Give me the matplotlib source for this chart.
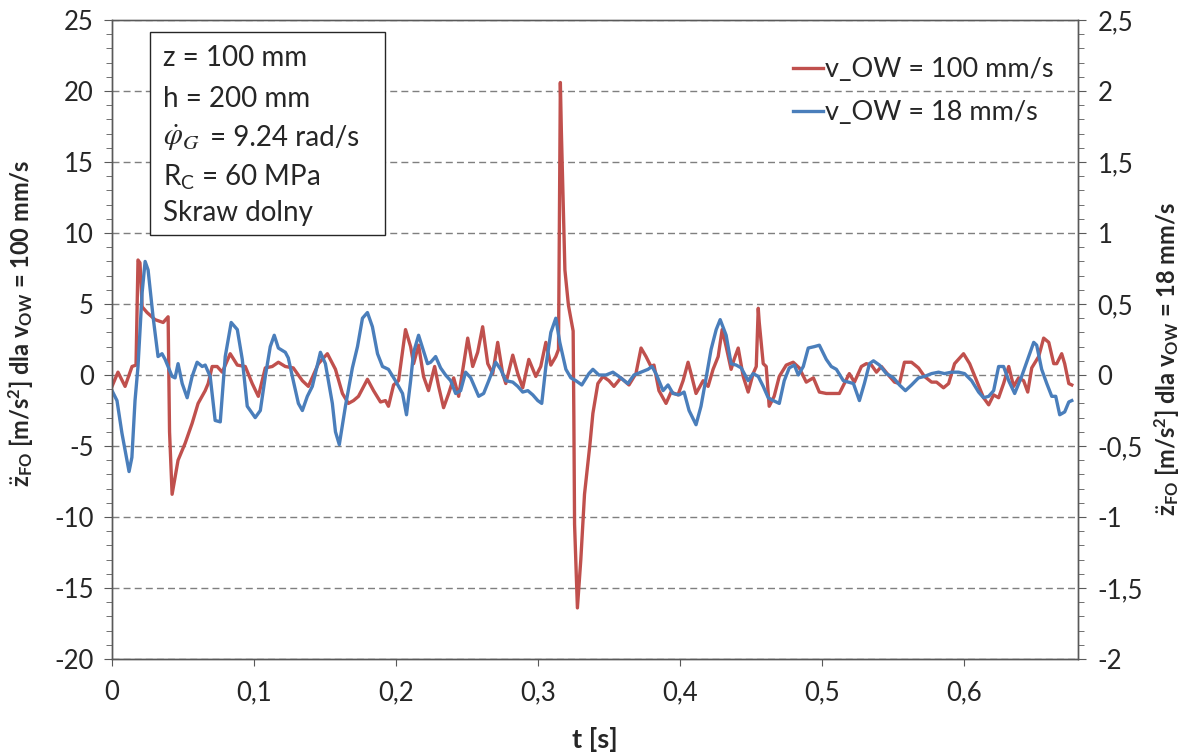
import matplotlib
matplotlib.use("Agg")
import matplotlib.pyplot as plt
from matplotlib.ticker import MultipleLocator, FuncFormatter
from matplotlib.lines import Line2D
from matplotlib.patches import Rectangle

plt.rcParams["font.family"] = ["Lato", "DejaVu Sans"]
plt.rcParams["mathtext.fontset"] = "custom"
plt.rcParams["mathtext.rm"] = "Lato"
plt.rcParams["mathtext.bf"] = "Lato:bold"
plt.rcParams["mathtext.it"] = "Lato:italic"

# v_OW = 100 mm/s, left axis [m/s^2]
t_red = [0.0, 0.0042, 0.0092, 0.0141, 0.0169, 0.0183, 0.0197, 0.0212, 0.0247, 0.0303,
         0.036, 0.0395, 0.0405, 0.0423, 0.0444, 0.0465, 0.0515, 0.0564, 0.0606, 0.0656,
         0.0677, 0.0705, 0.074, 0.0776, 0.0832, 0.0882, 0.0938, 0.0987, 0.103, 0.1079,
         0.1128, 0.1171, 0.122, 0.1276, 0.134, 0.1382, 0.1453, 0.1516, 0.1573, 0.1622,
         0.1664, 0.17, 0.1735, 0.1798, 0.1841, 0.189, 0.1925, 0.1946, 0.1982, 0.2017,
         0.2066, 0.2102, 0.2123, 0.2158, 0.2193, 0.2228, 0.2271, 0.2299, 0.2334, 0.237,
         0.2405, 0.244, 0.2504, 0.2539, 0.2574, 0.2609, 0.2645, 0.268, 0.2715, 0.275,
         0.2772, 0.2821, 0.2856, 0.2891, 0.2934, 0.2983, 0.3018, 0.3054, 0.3089, 0.3124,
         0.3143, 0.3149, 0.3156, 0.3163, 0.3188, 0.3213, 0.3246, 0.3251, 0.3256, 0.3276,
         0.33, 0.3326, 0.3364, 0.3385, 0.342, 0.3456, 0.3498, 0.3533, 0.3582, 0.3639,
         0.3688, 0.3724, 0.3759, 0.3794, 0.3815, 0.385, 0.39, 0.3935, 0.3984, 0.402,
         0.4055, 0.4076, 0.4111, 0.4161, 0.4196, 0.4231, 0.4267, 0.4295, 0.4323, 0.4358,
         0.4379, 0.4408, 0.4443, 0.4478, 0.4513, 0.4535, 0.4549, 0.4556, 0.4584, 0.4605,
         0.4626, 0.4661, 0.4697, 0.4746, 0.4795, 0.4838, 0.4887, 0.4937, 0.4979, 0.5028,
         0.5049, 0.512, 0.5155, 0.519, 0.5226, 0.5275, 0.531, 0.5346, 0.5381, 0.5416,
         0.5465, 0.5508, 0.5543, 0.5578, 0.5628, 0.5677, 0.5719, 0.5769, 0.5804, 0.5853,
         0.5889, 0.5931, 0.5994, 0.6037, 0.6086, 0.6135, 0.6171, 0.6206, 0.6241, 0.6276,
         0.6312, 0.6347, 0.6382, 0.6417, 0.6446, 0.6474, 0.6523, 0.6558, 0.6594, 0.6629,
         0.665, 0.6685, 0.6706, 0.6735, 0.6756]
a_red = [-0.8, 0.2, -0.8, 0.6, 0.7, 8.1, 7.9, 4.8, 4.4, 3.9,
         3.7, 4.1, -4.0, -8.4, -7.2, -6.0, -4.8, -3.4, -2.0, -1.1,
         -0.6, 0.6, 0.6, 0.2, 1.5, 0.7, 0.6, -0.6, -1.5, 0.5,
         0.6, 0.9, 0.6, 0.5, -0.4, -0.8, 0.8, 1.5, 0.4, -1.3,
         -2.0, -1.8, -1.5, -0.3, -1.1, -1.9, -1.8, -2.2, -0.7, -0.4,
         3.2, 2.0, 0.8, 2.1, -0.1, -1.1, 0.6, -0.8, -2.3, -1.3,
         -0.2, -1.5, 2.6, 0.6, 1.6, 3.4, 0.8, 0.1, 2.3, 0.1,
         -0.6, 1.4, 0.1, -0.9, 1.1, -0.1, 0.6, 2.3, 0.7, 1.3,
         1.8, 11.0, 20.6, 17.2, 7.4, 4.9, 3.1, -2.9, -10.5, -16.4,
         -13.0, -8.4, -4.9, -2.7, -0.6, -0.1, -0.4, -0.8, -0.2, -0.7,
         0.1, 1.9, 1.3, 0.6, 0.7, -1.1, -2.0, -1.2, -1.4, -0.4,
         0.9, 0.1, -1.3, -0.4, -0.8, 0.4, 1.3, 3.2, 2.0, 0.4,
         1.1, 1.9, -0.1, -1.2, 0.1, 0.6, 4.7, 3.7, 0.8, 0.6,
         -2.2, -1.5, -0.1, 0.7, 0.9, 0.5, -0.5, -0.2, -1.2, -1.3,
         -1.3, -1.3, -0.6, 0.1, -0.5, 0.6, 0.8, 0.7, 0.2, 0.6,
         0.0, -0.5, -0.6, 0.9, 0.9, 0.5, -0.1, -0.5, -0.5, -0.9,
         -0.6, 0.8, 1.5, 0.8, -0.4, -1.6, -2.1, -1.4, -1.6, -0.6,
         0.6, -0.8, -0.2, -0.4, -1.2, 0.5, 1.3, 2.6, 2.3, 0.8,
         0.8, 1.5, 0.8, -0.6, -0.7]

# v_OW = 18 mm/s, right axis [m/s^2]
t_blue = [0.0, 0.0035, 0.007, 0.012, 0.014, 0.0162, 0.0183, 0.0212, 0.0233, 0.0254,
          0.0289, 0.0324, 0.0352, 0.0374, 0.0423, 0.0444, 0.0465, 0.0494, 0.0529, 0.0564,
          0.0599, 0.0635, 0.0656, 0.0691, 0.0726, 0.0762, 0.0797, 0.0839, 0.0882, 0.0917,
          0.0952, 0.0987, 0.1008, 0.1044, 0.1079, 0.1114, 0.1142, 0.1171, 0.122, 0.1241,
          0.1276, 0.1312, 0.134, 0.1375, 0.141, 0.1467, 0.1502, 0.1551, 0.1573, 0.16,
          0.1643, 0.1692, 0.1728, 0.1763, 0.1798, 0.1833, 0.1869, 0.1904, 0.1946, 0.1995,
          0.2045, 0.2073, 0.2102, 0.2123, 0.2158, 0.2186, 0.2221, 0.2243, 0.2278, 0.2313,
          0.2348, 0.2384, 0.2419, 0.2454, 0.2489, 0.2525, 0.2581, 0.2616, 0.2652, 0.2701,
          0.2736, 0.2772, 0.2821, 0.2856, 0.2891, 0.2927, 0.2962, 0.2997, 0.3025, 0.3054,
          0.3089, 0.3124, 0.3152, 0.3195, 0.323, 0.3265, 0.3307, 0.3357, 0.3385, 0.3427,
          0.3477, 0.3526, 0.3568, 0.3631, 0.3674, 0.3724, 0.3773, 0.3801, 0.3829, 0.3879,
          0.3914, 0.3949, 0.3992, 0.4027, 0.4062, 0.4111, 0.4146, 0.4182, 0.4217, 0.4253,
          0.4281, 0.4323, 0.4358, 0.4394, 0.4429, 0.4478, 0.4513, 0.4549, 0.4584, 0.4619,
          0.4654, 0.4697, 0.4732, 0.4767, 0.4803, 0.4831, 0.4866, 0.4901, 0.4944, 0.4979,
          0.5028, 0.5063, 0.5099, 0.5148, 0.5183, 0.5219, 0.5261, 0.5296, 0.5332, 0.536,
          0.5402, 0.5451, 0.5501, 0.5543, 0.5585, 0.5628, 0.5677, 0.5719, 0.5769, 0.5818,
          0.586, 0.591, 0.5959, 0.6001, 0.6051, 0.61, 0.6135, 0.6171, 0.6206, 0.6241,
          0.6276, 0.6312, 0.6354, 0.6403, 0.6453, 0.6488, 0.6509, 0.6544, 0.658, 0.6615,
          0.6643, 0.6671, 0.6706, 0.6735, 0.6756]
a_blue = [-0.11, -0.18, -0.41, -0.68, -0.58, -0.18, 0.06, 0.58, 0.80, 0.74,
          0.41, 0.13, 0.15, 0.11, -0.01, -0.02, 0.08, -0.06, -0.16, -0.01,
          0.09, 0.06, 0.07, -0.01, -0.32, -0.33, 0.13, 0.37, 0.32, 0.11,
          -0.22, -0.27, -0.30, -0.25, -0.01, 0.20, 0.28, 0.19, 0.16, 0.12,
          -0.04, -0.20, -0.25, -0.15, -0.08, 0.16, 0.08, -0.20, -0.40, -0.49,
          -0.22, 0.05, 0.20, 0.40, 0.44, 0.34, 0.15, 0.06, 0.04, -0.04,
          -0.13, -0.28, -0.04, 0.16, 0.28, 0.19, 0.08, 0.09, 0.13, 0.05,
          0.00, -0.04, -0.13, -0.11, 0.02, -0.02, -0.15, -0.13, -0.04, 0.09,
          0.04, -0.04, -0.05, -0.08, -0.12, -0.11, -0.14, -0.18, -0.20, 0.06,
          0.30, 0.40, 0.23, 0.04, -0.02, -0.04, -0.07, 0.01, 0.04, 0.00,
          0.00, 0.02, -0.01, -0.06, 0.00, 0.02, 0.04, 0.06, 0.01, -0.11,
          -0.07, -0.13, -0.14, -0.12, -0.25, -0.35, -0.22, -0.02, 0.18, 0.32,
          0.39, 0.28, 0.08, 0.07, 0.05, -0.04, 0.01, -0.01, -0.08, -0.16,
          -0.18, -0.20, -0.04, 0.05, 0.07, 0.00, 0.06, 0.19, 0.20, 0.21,
          0.11, 0.06, 0.04, -0.04, -0.05, -0.06, -0.18, -0.06, 0.08, 0.10,
          0.07, 0.01, -0.02, -0.07, -0.11, -0.07, -0.02, -0.01, 0.01, 0.02,
          0.01, 0.02, 0.02, 0.01, -0.04, -0.12, -0.16, -0.15, -0.11, 0.06,
          0.06, -0.04, -0.13, -0.01, 0.13, 0.23, 0.21, 0.04, -0.06, -0.15,
          -0.15, -0.28, -0.26, -0.19, -0.18]

RED = "#C0504D"
BLUE = "#4A7EBB"
AXC = "#595959"
TXT = "#262626"
FS = 18.5

fig = plt.figure(figsize=(11.84, 7.56), dpi=100)
ax = fig.add_axes([0.0946, 0.1283, 0.8159, 0.8452])
ax2 = ax.twinx()

ax.plot(t_red, a_red, color=RED, lw=2.4, solid_joinstyle="round")
ax2.plot(t_blue, a_blue, color=BLUE, lw=2.4, solid_joinstyle="round")

ax.set_xlim(0, 0.68)
ax.set_ylim(-20, 25)
ax2.set_ylim(-2, 2.5)

comma = FuncFormatter(lambda v, _: f"{v:g}".replace(".", ","))
ax.xaxis.set_major_locator(MultipleLocator(0.1))
ax.xaxis.set_major_formatter(comma)
ax.yaxis.set_major_locator(MultipleLocator(5))
ax.yaxis.set_minor_locator(MultipleLocator(1))
ax.yaxis.set_major_formatter(comma)
ax2.yaxis.set_major_locator(MultipleLocator(0.5))
ax2.yaxis.set_minor_locator(MultipleLocator(0.1))
ax2.yaxis.set_major_formatter(comma)

ax.yaxis.grid(True, which="major", ls=(0, (5, 3)), color="#7f7f7f", lw=1.0)
ax.set_axisbelow(True)

for a in (ax, ax2):
    for s in a.spines.values():
        s.set_color(AXC)
        s.set_linewidth(1.0)
    a.tick_params(which="both", direction="out", color=AXC, labelsize=FS,
                  labelcolor=TXT)
ax.spines["top"].set_color("#8c8c8c")
ax.tick_params(axis="y", which="major", length=6, pad=7)
ax.tick_params(axis="y", which="minor", length=4.5)
ax2.tick_params(axis="y", which="major", length=6, pad=8)
ax2.tick_params(axis="y", which="minor", length=4.5)
ax.tick_params(axis="x", which="major", length=5, pad=10)

ax.set_xlabel("t [s]", fontsize=FS + 1, fontweight="bold", labelpad=16, color=TXT)
ax.set_ylabel(r"$\ddot{\mathbf{z}}_{\mathbf{FO}}$ [m/s$^{\mathbf{2}}$] dla v$_{\mathbf{OW}}$ = 100 mm/s",
              fontsize=17, fontweight="bold", color=TXT)
ax.yaxis.set_label_coords(-0.080, 0.525)
ax2.set_ylabel(r"$\ddot{\mathbf{z}}_{\mathbf{FO}}$ [m/s$^{\mathbf{2}}$] dla v$_{\mathbf{OW}}$ = 18 mm/s",
               fontsize=17, fontweight="bold", color=TXT)
ax2.yaxis.set_label_coords(1.077, 0.47)

handles = [Line2D([], [], color=RED, lw=2.4), Line2D([], [], color=BLUE, lw=2.4)]
ax2.legend(handles, ["v_OW = 100 mm/s", "v_OW = 18 mm/s"], loc="upper right",
           bbox_to_anchor=(0.975, 0.942), frameon=False, fontsize=19.5,
           handlelength=1.1, handletextpad=0.08, labelspacing=0.67,
           borderaxespad=0, borderpad=0, labelcolor=TXT)

# parameter box
fig.patches.append(Rectangle((0.1267, 0.6892), 0.1985, 0.2685, transform=fig.transFigure,
                             fill=True, facecolor="white", edgecolor=TXT, lw=1.0,
                             zorder=5))
lines = ["z = 100 mm", "h = 200 mm", None, r"R$_{\mathregular{C}}$ = 60 MPa", "Skraw dolny"]
ys = [0.9233, 0.869, 0.8175, 0.7659, 0.7183]
for s, y in zip(lines, ys):
    if s is None:
        fig.text(0.1377, y, r"$\dot{\varphi}_G$", fontsize=22, va="center",
                 math_fontfamily="stix", color=TXT, zorder=6)
        fig.text(0.1377 + 0.040, y, "= 9.24 rad/s", fontsize=20, va="center",
                 color=TXT, zorder=6)
    else:
        fig.text(0.1377, y, s, fontsize=20, va="center", color=TXT, zorder=6)

fig.savefig("out.png", dpi=100)
